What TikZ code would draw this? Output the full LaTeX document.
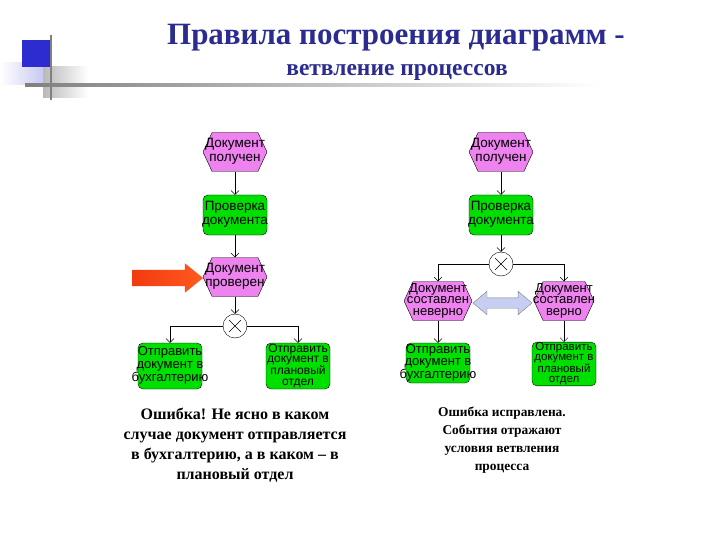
\documentclass[tikz,border=0pt]{standalone}
\usepackage{fontspec}
\setmainfont{Liberation Serif}
\newfontfamily\boxfont{Liberation Sans}
\usetikzlibrary{shapes.symbols,shapes.arrows,arrows.meta}

\definecolor{evpink}{HTML}{EE82EE}
\definecolor{fngreen}{HTML}{00E000}
\definecolor{titleblue}{HTML}{2B2B90}
\definecolor{sqblue}{HTML}{2C2CD0}
\definecolor{sqlav}{HTML}{C8C8F2}
\definecolor{arrred}{HTML}{F23A10}
\definecolor{arrorange}{HTML}{FF5A1E}
\definecolor{dblblue}{HTML}{C6CEF2}

% text lines that may run past the shape border
\newcommand{\ovl}[1]{\makebox[0pt]{\begin{tabular}{@{}c@{}}#1\end{tabular}}}

\tikzset{
    event/.style={signal, signal to=west and east, signal pointer angle=130,
        draw, fill=evpink, minimum width=64pt, minimum height=39pt, inner sep=0pt,
        font=\boxfont\fontsize{13.5}{14}\selectfont},
    func/.style={rectangle, rounded corners=5pt, draw, fill=fngreen,
        minimum width=64pt, minimum height=40pt, inner sep=0pt,
        font=\boxfont\fontsize{13.5}{13.5}\selectfont},
    xorop/.style={circle, draw, fill=white, minimum size=24pt, inner sep=0pt,
        path picture={
            \draw (path picture bounding box.center) +(-6pt,-6pt) -- +(6pt,6pt);
            \draw (path picture bounding box.center) +(-6pt,6pt) -- +(6pt,-6pt);
        }},
    flow/.style={-{Straight Barb[length=4pt,width=8pt]}},
    note/.style={align=center, inner sep=0pt, font=\bfseries},
}

\begin{document}
\begin{tikzpicture}[x=1pt,y=-1pt]
    \useasboundingbox (0,0) rectangle (720,540);

    % corner decoration
    \shade[left color=gray!55, right color=white] (43,67) rectangle (88,98);
    \shade[left color=white, right color=sqlav] (0,63) rectangle (43,85);
    \fill[sqblue] (22,40) rectangle (51,67);
    \draw[gray, line width=2pt] (51,35) -- (51,100);
    \shade[left color=gray, right color=white] (25,84) rectangle (600,86.5);

    \node[titleblue, font=\bfseries\fontsize{31}{34}\selectfont] (title) at (396,38)
        {Правила построения диаграмм -};
    \node[titleblue, font=\bfseries\fontsize{23.5}{26}\selectfont] (subtitle) at (397,72)
        {ветвление процессов};

    % left: wrong branching
    \node[event] (got1) at (235,152) {\ovl{Документ\\получен}};
    \node[func] (check1) at (235,215) {\ovl{Проверка\\документа}};
    \node[event] (checked) at (235,277) {\ovl{Документ\\проверен}};
    \node[xorop] (xor1) at (235,326) {};
    \node[func, minimum height=46pt, font=\boxfont\fontsize{13}{12.5}\selectfont] (acc1) at (170,366)
        {\ovl{Отправить\\документ в\\бухгалтерию}};
    \node[func, minimum height=46pt, font=\boxfont\fontsize{12}{10.5}\selectfont] (plan1) at (298,366)
        {\ovl{Отправить\\документ в\\плановый\\отдел}};
    \node[single arrow, shade, left color=arrred, right color=arrorange,
        minimum height=71pt, minimum width=29pt, inner xsep=0pt, inner ysep=8pt,
        single arrow head extend=6.5pt, single arrow tip angle=78] (mark) at (162.5,278) {};

    \draw[flow] (got1) -- (check1);
    \draw[flow] (check1) -- (checked);
    \draw[flow] (checked) -- (xor1);
    \draw[flow] (xor1.west) -| (acc1.north);
    \draw[flow] (xor1.east) -| (plan1.north);

    % right: corrected branching
    \node[event] (got2) at (501,152) {\ovl{Документ\\получен}};
    \node[func] (check2) at (501,215) {\ovl{Проверка\\документа}};
    \node[xorop] (xor2) at (501,264) {};
    \node[event, minimum width=68pt, font=\boxfont\fontsize{13}{11.5}\selectfont] (wrong) at (438,301)
        {\ovl{Документ\\составлен\\неверно}};
    \node[event, minimum width=60pt, font=\boxfont\fontsize{13}{11.5}\selectfont] (right) at (564,301)
        {\ovl{Документ\\составлен\\верно}};
    \node[func, font=\boxfont\fontsize{13}{12}\selectfont] (acc2) at (438,363)
        {\ovl{Отправить\\документ в\\бухгалтерию}};
    \node[func, minimum height=42pt, font=\boxfont\fontsize{11.5}{10.5}\selectfont] (plan2) at (564,364)
        {\ovl{Отправить\\документ в\\плановый\\отдел}};
    \node[double arrow, draw=gray, fill=dblblue, minimum height=59pt, minimum width=23pt,
        inner xsep=0pt, inner ysep=5pt,
        double arrow head extend=6.5pt, double arrow tip angle=80] (pair) at (502.5,303) {};

    \draw[flow] (got2) -- (check2);
    \draw[flow] (check2) -- (xor2);
    \draw[flow] (xor2.west) -| (wrong.north);
    \draw[flow] (xor2.east) -| (right.north);
    \draw[flow] (wrong) -- (acc2);
    \draw[flow] (right) -- (plan2);

    \node[note, font=\bfseries\fontsize{16}{20}\selectfont] (err) at (235,445)
        {Ошибка! Не ясно в каком\\случае документ отправляется\\в бухгалтерию, а в каком -- в\\плановый отдел};
    \node[note, font=\bfseries\fontsize{13.4}{18}\selectfont] (fix) at (502,440)
        {Ошибка исправлена.\\События отражают\\условия ветвления\\процесса};
\end{tikzpicture}
\end{document}
